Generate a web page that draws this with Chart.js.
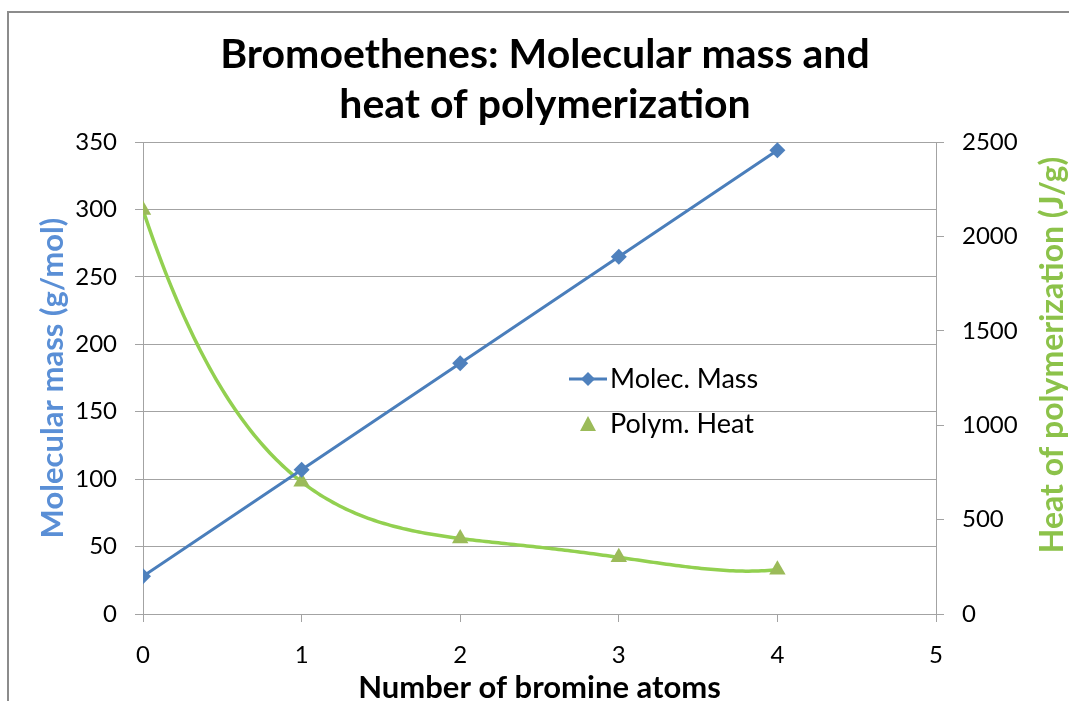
<!DOCTYPE html>
<html lang="en">
<head>
    <meta charset="UTF-8">
    <title>Bromoethenes</title>
    <style>
        body { margin: 0; background: #ffffff; }
        #wrap { width: 1069px; height: 701px; }
    </style>
    <script src="https://cdn.jsdelivr.net/npm/chart.js"></script>
</head>
<body>
    <div id="wrap"><canvas id="myChart" width="1069" height="701"></canvas></div>

    <script>
        // data
        const bromineAtoms = [0, 1, 2, 3, 4];
        const molecMass = [28, 107, 186, 265, 344];
        const polymHeat = [2140, 700, 400, 300, 235];
        const massTicks = [0, 50, 100, 150, 200, 250, 300, 350];
        const heatTicks = [0, 500, 1000, 1500, 2000, 2500];
        const trendOrder = 4; // polynomial trendline on Polym. Heat

        const FONT = 'Lato, Calibri, sans-serif';
        const gridColor = '#a3a3a3';

        // least squares polynomial fit, like a spreadsheet trendline
        function polyFit(xs, ys, order) {
            const n = order + 1;
            const m = [];
            for (let r = 0; r < n; r++) {
                m.push([]);
                for (let c = 0; c < n; c++) {
                    m[r].push(xs.reduce((s, x) => s + Math.pow(x, r + c), 0));
                }
                m[r].push(xs.reduce((s, x, i) => s + ys[i] * Math.pow(x, r), 0));
            }
            for (let c = 0; c < n; c++) {
                let p = c;
                for (let r = c + 1; r < n; r++) if (Math.abs(m[r][c]) > Math.abs(m[p][c])) p = r;
                [m[c], m[p]] = [m[p], m[c]];
                for (let r = 0; r < n; r++) {
                    if (r === c) continue;
                    const f = m[r][c] / m[c][c];
                    for (let k = c; k <= n; k++) m[r][k] -= f * m[c][k];
                }
            }
            return m.map((row, i) => row[n] / row[i]);
        }
        const heatCoef = polyFit(bromineAtoms, polymHeat, trendOrder);
        const heatTrend = x => heatCoef.reduce((s, a, i) => s + a * Math.pow(x, i), 0);

        const trendline = {
            id: 'trendline',
            beforeDatasetsDraw(chart) {
                const ctx = chart.ctx;
                const xs = chart.scales.x, ys = chart.scales.y1;
                const a = chart.chartArea;
                const x0 = bromineAtoms[0], x1 = bromineAtoms[bromineAtoms.length - 1];
                ctx.save();
                ctx.beginPath();
                ctx.rect(a.left, a.top, a.right - a.left, a.bottom - a.top);
                ctx.clip();
                ctx.strokeStyle = '#92d050';
                ctx.lineWidth = 3.5;
                ctx.lineJoin = 'round';
                ctx.beginPath();
                const steps = 200;
                for (let i = 0; i <= steps; i++) {
                    const x = x0 + (x1 - x0) * i / steps;
                    const px = xs.getPixelForValue(x), py = ys.getPixelForValue(heatTrend(x));
                    if (i === 0) ctx.moveTo(px, py); else ctx.lineTo(px, py);
                }
                ctx.stroke();
                ctx.restore();
            }
        };

        // frame round the chart, right axis title and the legend inside the plot
        const extras = {
            id: 'extras',
            beforeDraw(chart) {
                const ctx = chart.ctx;
                ctx.save();
                ctx.strokeStyle = '#8c8c8c';
                ctx.lineWidth = 2;
                ctx.strokeRect(8, 12, 1200, 800);
                ctx.restore();
            },
            afterDraw(chart) {
                const ctx = chart.ctx;
                ctx.save();
                // right axis title, reads bottom to top
                ctx.translate(1053, 355);
                ctx.rotate(-Math.PI / 2);
                ctx.font = 'bold 32px ' + FONT;
                ctx.fillStyle = '#8cc24a';
                ctx.textAlign = 'center';
                ctx.textBaseline = 'middle';
                ctx.fillText('Heat of polymerization (J/g)', 0, 0);
                ctx.restore();

                ctx.save();
                ctx.font = '27px ' + FONT;
                ctx.textBaseline = 'middle';
                // Molec. Mass
                ctx.strokeStyle = '#4a7ebb';
                ctx.lineWidth = 3;
                ctx.beginPath();
                ctx.moveTo(569, 379);
                ctx.lineTo(607, 379);
                ctx.stroke();
                ctx.fillStyle = '#4f81bd';
                ctx.beginPath();
                ctx.moveTo(588, 372); ctx.lineTo(595, 379); ctx.lineTo(588, 386); ctx.lineTo(581, 379);
                ctx.closePath();
                ctx.fill();
                ctx.fillStyle = '#000';
                ctx.fillText('Molec. Mass', 610, 379);
                // Polym. Heat
                ctx.fillStyle = '#9bbb59';
                ctx.beginPath();
                ctx.moveTo(588, 416); ctx.lineTo(596, 431); ctx.lineTo(580, 431);
                ctx.closePath();
                ctx.fill();
                ctx.fillStyle = '#000';
                ctx.fillText('Polym. Heat', 610, 424);
                ctx.restore();
            }
        };

        const ctx = document.getElementById('myChart').getContext('2d');
        const myChart = new Chart(ctx, {
            type: 'line',
            data: {
                datasets: [{
                    label: 'Molec. Mass',
                    data: bromineAtoms.map((x, i) => ({ x: x, y: molecMass[i] })),
                    yAxisID: 'y',
                    borderColor: '#4a7ebb',
                    backgroundColor: '#4f81bd',
                    borderWidth: 3,
                    pointStyle: 'rectRot',
                    pointRadius: 8,
                    pointBorderWidth: 0,
                    tension: 0
                }, {
                    label: 'Polym. Heat',
                    data: bromineAtoms.map((x, i) => ({ x: x, y: polymHeat[i] })),
                    yAxisID: 'y1',
                    showLine: false,
                    borderColor: '#9bbb59',
                    backgroundColor: '#9bbb59',
                    pointStyle: 'triangle',
                    pointRadius: 9.5,
                    pointBorderWidth: 0
                }]
            },
            options: {
                responsive: false,
                animation: false,
                layout: { padding: { left: 21, right: 0, top: 0, bottom: 0 } },
                plugins: {
                    legend: { display: false },
                    tooltip: { enabled: false },
                    title: {
                        display: true,
                        text: ['Bromoethenes: Molecular mass and', 'heat of polymerization'],
                        color: '#000',
                        font: { family: FONT, size: 41, weight: 'bold', lineHeight: 1.22 },
                        padding: { top: 30, bottom: 12 }
                    }
                },
                scales: {
                    x: {
                        type: 'linear',
                        min: 0,
                        max: 5,
                        ticks: { stepSize: 1, color: '#000', padding: 19, font: { family: FONT, size: 24 } },
                        grid: { drawOnChartArea: false, tickLength: 8, color: gridColor },
                        border: { display: true, color: gridColor },
                        title: {
                            display: true,
                            text: 'Number of bromine atoms',
                            color: '#000',
                            font: { family: FONT, size: 31, weight: 'bold', lineHeight: 0.85 },
                            padding: { top: 0, bottom: 0 }
                        },
                        afterFit(scale) { scale.height = 87; }
                    },
                    y: {
                        position: 'left',
                        min: 0,
                        max: 350,
                        afterBuildTicks(scale) { scale.ticks = massTicks.map(v => ({ value: v })); },
                        ticks: { color: '#000', padding: 18, font: { family: FONT, size: 24 } },
                        grid: { tickLength: 8, color: gridColor },
                        border: { display: true, color: gridColor },
                        title: {
                            display: true,
                            text: 'Molecular mass (g/mol)',
                            color: '#5a8fd6',
                            font: { family: FONT, size: 31, weight: 'bold', lineHeight: 1 },
                            padding: { top: 16, bottom: 0 }
                        },
                        afterFit(scale) { scale.width = 122; }
                    },
                    y1: {
                        position: 'right',
                        min: 0,
                        max: 2500,
                        afterBuildTicks(scale) { scale.ticks = heatTicks.map(v => ({ value: v })); },
                        ticks: {
                            color: '#000',
                            padding: 18,
                            font: { family: FONT, size: 24 },
                            callback: v => String(v)
                        },
                        grid: { drawOnChartArea: false, tickLength: 8, color: gridColor },
                        border: { display: true, color: gridColor },
                        afterFit(scale) { scale.width = 133; }
                    }
                }
            },
            plugins: [trendline, extras]
        });
    </script>
</body>
</html>
